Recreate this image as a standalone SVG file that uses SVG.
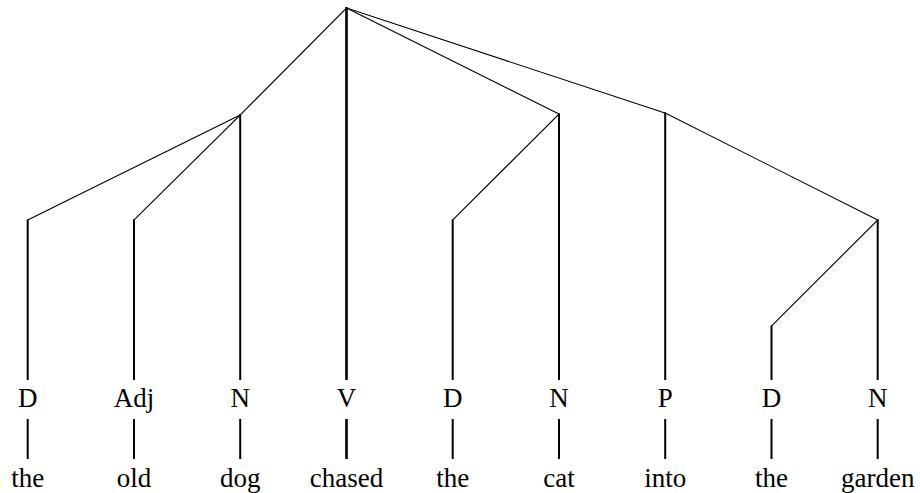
<svg xmlns="http://www.w3.org/2000/svg" width="920" height="493" viewBox="0 0 920 493">
<style>
.t{font-family:'Liberation Serif','DejaVu Serif',serif;font-size:27px;fill:#000;text-anchor:middle}
.d{stroke:#000;stroke-width:1.1;fill:none;stroke-linecap:square}
.v{stroke:#000;stroke-width:2;fill:none}
.vv{stroke:#000;stroke-width:2.6;fill:none}
</style>
<rect width="920" height="493" fill="#fff"/>
<g id="connectors">
<line class="d" x1="346.5" y1="8" x2="240.2" y2="115"/>
<line class="d" x1="346.5" y1="8" x2="559" y2="114"/>
<line class="d" x1="346.5" y1="8" x2="665.2" y2="113"/>
<line class="vv" x1="346.5" y1="7" x2="346.5" y2="380"/>
<line class="d" x1="240.2" y1="115" x2="27.7" y2="220"/>
<line class="d" x1="240.2" y1="115" x2="134" y2="220"/>
<line class="v" x1="240.2" y1="114" x2="240.2" y2="380"/>
<line class="v" x1="27.7" y1="219.5" x2="27.7" y2="380"/>
<line class="v" x1="134" y1="219.5" x2="134" y2="380"/>
<line class="d" x1="559" y1="114" x2="452.7" y2="220"/>
<line class="v" x1="559" y1="113.5" x2="559" y2="380"/>
<line class="v" x1="452.7" y1="219.5" x2="452.7" y2="380"/>
<line class="d" x1="665.2" y1="113" x2="877.7" y2="220"/>
<line class="v" x1="665.2" y1="112.5" x2="665.2" y2="380"/>
<line class="d" x1="877.7" y1="220" x2="771.5" y2="326"/>
<line class="v" x1="877.7" y1="219.5" x2="877.7" y2="380"/>
<line class="v" x1="771.5" y1="325.5" x2="771.5" y2="380"/>
<line class="v" x1="27.7" y1="419" x2="27.7" y2="459"/>
<line class="v" x1="134" y1="419" x2="134" y2="459"/>
<line class="v" x1="240.2" y1="419" x2="240.2" y2="459"/>
<line class="vv" x1="346.5" y1="419" x2="346.5" y2="459"/>
<line class="v" x1="452.7" y1="419" x2="452.7" y2="459"/>
<line class="v" x1="559" y1="419" x2="559" y2="459"/>
<line class="v" x1="665.2" y1="419" x2="665.2" y2="459"/>
<line class="v" x1="771.5" y1="419" x2="771.5" y2="459"/>
<line class="v" x1="877.7" y1="419" x2="877.7" y2="459"/>
</g>
<g id="cat-D1"><text class="t" x="27.7" y="407">D</text></g>
<g id="cat-Adj"><text class="t" x="134" y="407">Adj</text></g>
<g id="cat-N1"><text class="t" x="240.2" y="407">N</text></g>
<g id="cat-V"><text class="t" x="346.5" y="407">V</text></g>
<g id="cat-D2"><text class="t" x="452.7" y="407">D</text></g>
<g id="cat-N2"><text class="t" x="559" y="407">N</text></g>
<g id="cat-P"><text class="t" x="665.2" y="407">P</text></g>
<g id="cat-D3"><text class="t" x="771.5" y="407">D</text></g>
<g id="cat-N3"><text class="t" x="877.7" y="407">N</text></g>
<g id="w-the1"><text class="t" x="27.7" y="487">the</text></g>
<g id="w-old"><text class="t" x="134" y="487">old</text></g>
<g id="w-dog"><text class="t" x="240.2" y="487">dog</text></g>
<g id="w-chased"><text class="t" x="346.5" y="487">chased</text></g>
<g id="w-the2"><text class="t" x="452.7" y="487">the</text></g>
<g id="w-cat"><text class="t" x="559" y="487">cat</text></g>
<g id="w-into"><text class="t" x="665.2" y="487">into</text></g>
<g id="w-the3"><text class="t" x="771.5" y="487">the</text></g>
<g id="w-garden"><text class="t" x="877.7" y="487">garden</text></g>
</svg>
